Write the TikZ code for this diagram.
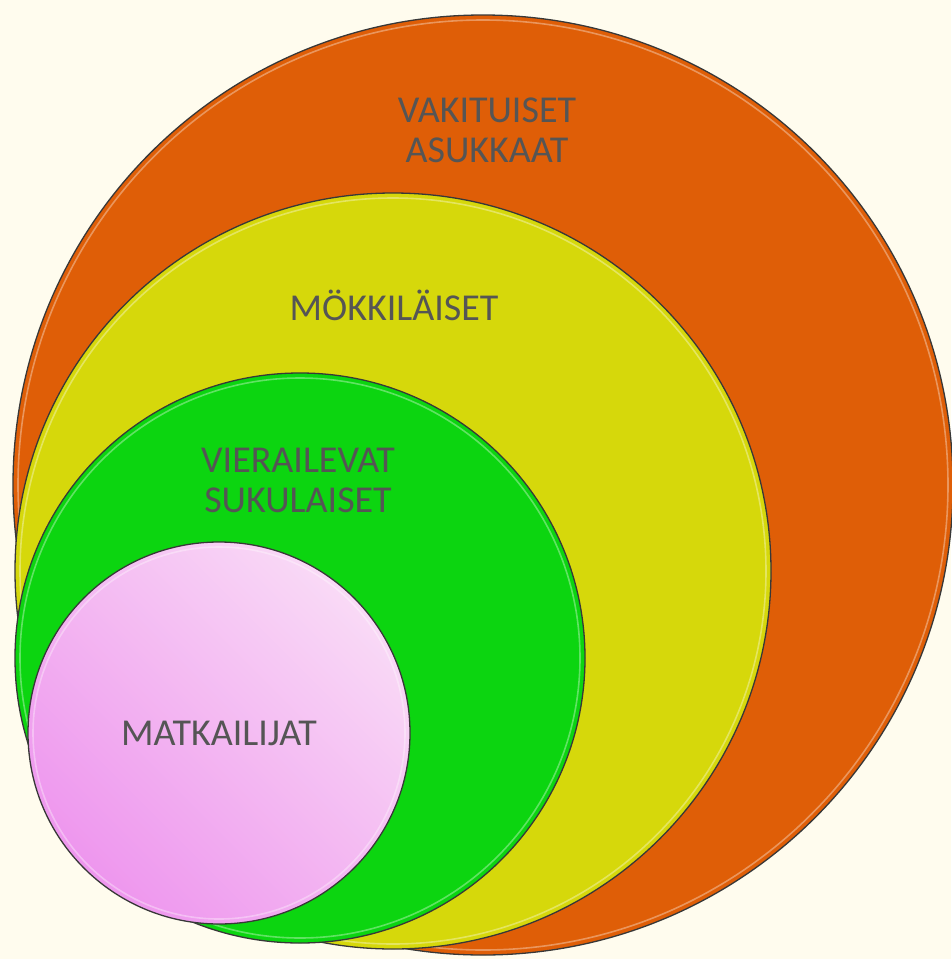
\documentclass[tikz,border=0pt]{standalone}
\usepackage{fontspec}
\setmainfont{Carlito}
\usepackage{tikz}
\usetikzlibrary{shapes, positioning}
\definecolor{paper}{HTML}{FFFCEE}
\definecolor{rimgray}{HTML}{383838}
\definecolor{txtgray}{HTML}{555555}
\definecolor{orangefill}{HTML}{DF5E07}
\definecolor{yellowfill}{HTML}{D6D80B}
\definecolor{greenfill}{HTML}{0CD510}
\definecolor{pinkdark}{HTML}{EE96EE}
\definecolor{pinklight}{HTML}{F9DAF6}
\tikzstyle{ring}  = [draw=rimgray, circle, line width=1.3pt, inner sep=0pt]
\tikzstyle{glare} = [draw=white, line width=1.6pt, opacity=0.35]
\tikzstyle{lbl}   = [text=txtgray, align=center, inner sep=0pt, font=\fontsize{38}{40}\selectfont]

\begin{document}
\begin{tikzpicture}[x=1pt, y=-1pt]

% page
\fill [paper] (0,0) rectangle (951,959);
\useasboundingbox (0,0) rectangle (951,959);

% circles
\node [ring, fill=orangefill, minimum size=940] at (483, 485) (asukkaat) {};
\draw [glare] (asukkaat.center) circle (465);
\node [ring, fill=yellowfill, minimum size=756] at (393, 571) (mokki)    {};
\draw [glare] (mokki.center) circle (373);
\node [ring, fill=greenfill,  minimum size=570] at (300, 658) (suku)     {};
\draw [glare] (suku.center) circle (280);
\node [ring, left color=pinkdark, right color=pinklight, shading angle=135,
       minimum size=382] at (219, 733) (matka) {};
\draw [glare] (matka.center) circle (186);

% labels
\node [lbl]              at (487, 130.5) (asukkaat-txt) {VAKITUISET\\ASUKKAAT};
\node [lbl, anchor=base] at (394, 320)   (mokki-txt)    {MÖKKILÄISET};
\node [lbl]              at (298, 480.5) (suku-txt)     {VIERAILEVAT\\SUKULAISET};
\node [lbl, anchor=base] at (219, 745)   (matka-txt)    {MATKAILIJAT};

\end{tikzpicture}
\end{document}
